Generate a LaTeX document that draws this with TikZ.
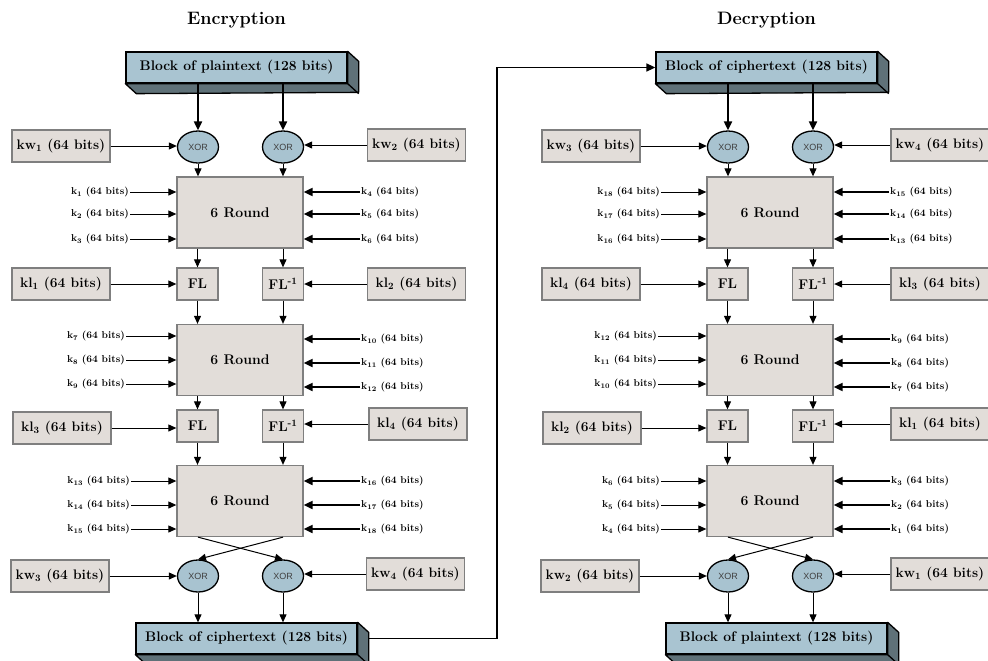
\documentclass[tikz,border=0pt]{standalone}
\usepackage{fontspec}
\newfontfamily\xorfont{Liberation Sans}
\usetikzlibrary{arrows.meta,positioning,shapes.geometric,calc}
\definecolor{BlockBlue}{HTML}{A9C4D1}
\definecolor{BlockSide}{HTML}{5F7178}
\definecolor{KeyGray}{HTML}{E2DDD9}
\definecolor{EdgeGray}{HTML}{7F7F7F}
\definecolor{XorBlue}{HTML}{A8C3D0}

\begin{document}
\begin{tikzpicture}[
    x=1pt, y=-1pt,
    title/.style={font=\fontsize{18}{20}\selectfont\bfseries},
    datablock/.style={rectangle, draw=black, line width=1.3pt, fill=BlockBlue, minimum width=221pt, minimum height=31pt, inner sep=0pt, font=\fontsize{13.9}{16}\selectfont\bfseries},
    side/.style={fill=BlockSide, draw=black, line width=1.3pt, line join=round},
    keybox/.style={rectangle, draw=EdgeGray, line width=1.3pt, fill=KeyGray, minimum width=98pt, minimum height=32pt, inner sep=0pt, font=\fontsize{13.8}{15}\selectfont\bfseries},
    roundbox/.style={rectangle, draw=EdgeGray, line width=1.3pt, fill=KeyGray, minimum width=126pt, minimum height=71pt, inner sep=0pt, font=\fontsize{14}{16}\selectfont\bfseries},
    flbox/.style={rectangle, draw=EdgeGray, line width=1.3pt, fill=KeyGray, minimum width=41pt, minimum height=32pt, inner sep=0pt, font=\fontsize{14}{16}\selectfont\bfseries},
    xor/.style={ellipse, draw=black, line width=1.3pt, fill=XorBlue, minimum width=41pt, minimum height=32pt, inner sep=0pt, font=\xorfont\fontsize{9}{10}\selectfont, text=black!75},
    subkey/.style={inner sep=1pt, font=\fontsize{10}{11}\selectfont\bfseries},
    arrow/.style={-{Triangle[length=8pt, width=7pt]}, line width=1pt},
    feed/.style={-{Triangle[length=9pt, width=8pt]}, line width=2pt},
    link/.style={-{Triangle[length=9pt, width=8pt]}, line width=1.5pt},
]
    \useasboundingbox (0,0) rectangle (988,661);

    % Encryption
    \node[title] (enctitle) at (236.5,20) {Encryption};
    \node[datablock] (ptop) at (236.5,67.5) {Block of plaintext (128 bits)};
    \node[xor] (ex1) at (198,147) {XOR};
    \node[xor] (ex2) at (283,147) {XOR};
    \node[keybox] (ekw1) at (61,146) {kw\textsubscript{1} (64 bits)};
    \node[keybox] (ekw2) at (416.5,145) {kw\textsubscript{2} (64 bits)};
    \node[roundbox] (er1) at (240,212.5) {6 Round};
    \node[subkey, anchor=east] (ek1) at (130,192) {k\textsubscript{1} (64 bits)};
    \node[subkey, anchor=east] (ek2) at (130,214) {k\textsubscript{2} (64 bits)};
    \node[subkey, anchor=east] (ek3) at (130,239) {k\textsubscript{3} (64 bits)};
    \node[subkey, anchor=west] (ek4) at (360,192) {k\textsubscript{4} (64 bits)};
    \node[subkey, anchor=west] (ek5) at (360,214) {k\textsubscript{5} (64 bits)};
    \node[subkey, anchor=west] (ek6) at (360,239) {k\textsubscript{6} (64 bits)};
    \node[flbox] (efl1) at (197.5,284) {FL};
    \node[flbox] (efi1) at (283,284) {FL\textsuperscript{-1}};
    \node[keybox] (ekl1) at (61,284) {kl\textsubscript{1} (64 bits)};
    \node[keybox] (ekl2) at (416.5,284) {kl\textsubscript{2} (64 bits)};
    \node[roundbox] (er2) at (240,360) {6 Round};
    \node[subkey, anchor=east] (ek7) at (126,336) {k\textsubscript{7} (64 bits)};
    \node[subkey, anchor=east] (ek8) at (126,360) {k\textsubscript{8} (64 bits)};
    \node[subkey, anchor=east] (ek9) at (126,384) {k\textsubscript{9} (64 bits)};
    \node[subkey, anchor=west] (ek10) at (360,339) {k\textsubscript{10} (64 bits)};
    \node[subkey, anchor=west] (ek11) at (360,363) {k\textsubscript{11} (64 bits)};
    \node[subkey, anchor=west] (ek12) at (360,387) {k\textsubscript{12} (64 bits)};
    \node[flbox] (efl2) at (197.5,426) {FL};
    \node[flbox] (efi2) at (283,426) {FL\textsuperscript{-1}};
    \node[keybox] (ekl3) at (62,428) {kl\textsubscript{3} (64 bits)};
    \node[keybox] (ekl4) at (418,424) {kl\textsubscript{4} (64 bits)};
    \node[roundbox] (er3) at (240,501) {6 Round};
    \node[subkey, anchor=east] (ek13) at (131,481) {k\textsubscript{13} (64 bits)};
    \node[subkey, anchor=east] (ek14) at (131,505) {k\textsubscript{14} (64 bits)};
    \node[subkey, anchor=east] (ek15) at (131,529) {k\textsubscript{15} (64 bits)};
    \node[subkey, anchor=west] (ek16) at (360,481) {k\textsubscript{16} (64 bits)};
    \node[subkey, anchor=west] (ek17) at (360,505) {k\textsubscript{17} (64 bits)};
    \node[subkey, anchor=west] (ek18) at (360,529) {k\textsubscript{18} (64 bits)};
    \node[xor] (ex3) at (198,576) {XOR};
    \node[xor] (ex4) at (283,576) {XOR};
    \node[keybox] (ekw3) at (60,576) {kw\textsubscript{3} (64 bits)};
    \node[keybox] (ekw4) at (415.5,574) {kw\textsubscript{4} (64 bits)};
    \node[datablock] (cbot) at (246.5,638.5) {Block of ciphertext (128 bits)};

    % Decryption
    \node[title] (dectitle) at (766.5,20) {Decryption};
    \node[datablock] (ctop) at (766.5,67.5) {Block of ciphertext (128 bits)};
    \node[xor] (dx1) at (728,147) {XOR};
    \node[xor] (dx2) at (813,147) {XOR};
    \node[keybox] (dkw3) at (591,146) {kw\textsubscript{3} (64 bits)};
    \node[keybox] (dkw4) at (940,145) {kw\textsubscript{4} (64 bits)};
    \node[roundbox] (dr1) at (770,212.5) {6 Round};
    \node[subkey, anchor=east] (dk18) at (661,192) {k\textsubscript{18} (64 bits)};
    \node[subkey, anchor=east] (dk17) at (661,214) {k\textsubscript{17} (64 bits)};
    \node[subkey, anchor=east] (dk16) at (661,239) {k\textsubscript{16} (64 bits)};
    \node[subkey, anchor=west] (dk15) at (889,192) {k\textsubscript{15} (64 bits)};
    \node[subkey, anchor=west] (dk14) at (889,214) {k\textsubscript{14} (64 bits)};
    \node[subkey, anchor=west] (dk13) at (889,239) {k\textsubscript{13} (64 bits)};
    \node[flbox] (dfl1) at (727.5,284) {FL};
    \node[flbox] (dfi1) at (813,284) {FL\textsuperscript{-1}};
    \node[keybox] (dkl4) at (591,284) {kl\textsubscript{4} (64 bits)};
    \node[keybox] (dkl3) at (940,284) {kl\textsubscript{3} (64 bits)};
    \node[roundbox] (dr2) at (770,360) {6 Round};
    \node[subkey, anchor=east] (dk12) at (658,336) {k\textsubscript{12} (64 bits)};
    \node[subkey, anchor=east] (dk11) at (658,360) {k\textsubscript{11} (64 bits)};
    \node[subkey, anchor=east] (dk10) at (658,384) {k\textsubscript{10} (64 bits)};
    \node[subkey, anchor=west] (dk9) at (890,339) {k\textsubscript{9} (64 bits)};
    \node[subkey, anchor=west] (dk8) at (890,363) {k\textsubscript{8} (64 bits)};
    \node[subkey, anchor=west] (dk7) at (890,387) {k\textsubscript{7} (64 bits)};
    \node[flbox] (dfl2) at (727.5,426) {FL};
    \node[flbox] (dfi2) at (813,426) {FL\textsuperscript{-1}};
    \node[keybox] (dkl2) at (592,428) {kl\textsubscript{2} (64 bits)};
    \node[keybox] (dkl1) at (940,424) {kl\textsubscript{1} (64 bits)};
    \node[roundbox] (dr3) at (770,501) {6 Round};
    \node[subkey, anchor=east] (dk6) at (661,481) {k\textsubscript{6} (64 bits)};
    \node[subkey, anchor=east] (dk5) at (661,505) {k\textsubscript{5} (64 bits)};
    \node[subkey, anchor=east] (dk4) at (661,529) {k\textsubscript{4} (64 bits)};
    \node[subkey, anchor=west] (dk3) at (890,481) {k\textsubscript{3} (64 bits)};
    \node[subkey, anchor=west] (dk2) at (890,505) {k\textsubscript{2} (64 bits)};
    \node[subkey, anchor=west] (dk1) at (890,529) {k\textsubscript{1} (64 bits)};
    \node[xor] (dx3) at (728,576) {XOR};
    \node[xor] (dx4) at (813,576) {XOR};
    \node[keybox] (dkw2) at (590,576) {kw\textsubscript{2} (64 bits)};
    \node[keybox] (dkw1) at (940,574) {kw\textsubscript{1} (64 bits)};
    \node[datablock] (pbot) at (776.5,638.5) {Block of plaintext (128 bits)};

    % 3D sides of the data blocks
    \filldraw[side] (ptop.north east) -- ++(11,10) -- ++(0,31) -- ($(ptop.south west)+(11,10)$) -- (ptop.south west) -- (ptop.south east) -- cycle;
    \draw[line width=1.3pt] (ptop.south east) -- ++(11,10);
    \filldraw[side] (cbot.north east) -- ++(11,10) -- ++(0,31) -- ($(cbot.south west)+(11,10)$) -- (cbot.south west) -- (cbot.south east) -- cycle;
    \draw[line width=1.3pt] (cbot.south east) -- ++(11,10);
    \filldraw[side] (ctop.north east) -- ++(11,10) -- ++(0,31) -- ($(ctop.south west)+(11,10)$) -- (ctop.south west) -- (ctop.south east) -- cycle;
    \draw[line width=1.3pt] (ctop.south east) -- ++(11,10);
    \filldraw[side] (pbot.north east) -- ++(11,10) -- ++(0,31) -- ($(pbot.south west)+(11,10)$) -- (pbot.south west) -- (pbot.south east) -- cycle;
    \draw[line width=1.3pt] (pbot.south east) -- ++(11,10);

    % Encryption arrows
    \draw[feed] (ptop.south -| ex1) -- (ex1);
    \draw[feed] (ptop.south -| ex2) -- (ex2);
    \draw[arrow] (ekw1) -- (ekw1 -| ex1.west);
    \draw[arrow] (ekw2) -- (ekw2 -| ex2.east);
    \draw[arrow] (ex1) -- (ex1 |- er1.north);
    \draw[arrow] (ex2) -- (ex2 |- er1.north);
    \draw[arrow] (ek1) -- (ek1 -| er1.west);
    \draw[arrow] (ek2) -- (ek2 -| er1.west);
    \draw[arrow] (ek3) -- (ek3 -| er1.west);
    \draw[feed] (ek4) -- (ek4 -| er1.east);
    \draw[feed] (ek5) -- (ek5 -| er1.east);
    \draw[feed] (ek6) -- (ek6 -| er1.east);
    \draw[arrow] (er1.south -| efl1) -- (efl1);
    \draw[arrow] (er1.south -| efi1) -- (efi1);
    \draw[arrow] (ekl1) -- (efl1);
    \draw[arrow] (ekl2) -- (efi1);
    \draw[arrow] (efl1) -- (efl1 |- er2.north);
    \draw[arrow] (efi1) -- (efi1 |- er2.north);
    \draw[arrow] (ek7) -- (ek7 -| er2.west);
    \draw[arrow] (ek8) -- (ek8 -| er2.west);
    \draw[arrow] (ek9) -- (ek9 -| er2.west);
    \draw[feed] (ek10) -- (ek10 -| er2.east);
    \draw[feed] (ek11) -- (ek11 -| er2.east);
    \draw[feed] (ek12) -- (ek12 -| er2.east);
    \draw[arrow] (er2.south -| efl2) -- (efl2);
    \draw[arrow] (er2.south -| efi2) -- (efi2);
    \draw[arrow] (ekl3) -- (ekl3 -| efl2.west);
    \draw[arrow] (ekl4) -- (ekl4 -| efi2.east);
    \draw[arrow] (efl2) -- (efl2 |- er3.north);
    \draw[arrow] (efi2) -- (efi2 |- er3.north);
    \draw[arrow] (ek13) -- (ek13 -| er3.west);
    \draw[arrow] (ek14) -- (ek14 -| er3.west);
    \draw[arrow] (ek15) -- (ek15 -| er3.west);
    \draw[feed] (ek16) -- (ek16 -| er3.east);
    \draw[feed] (ek17) -- (ek17 -| er3.east);
    \draw[feed] (ek18) -- (ek18 -| er3.east);
    \draw[arrow] (er3.south -| ex3) -- (ex4.north);
    \draw[arrow] (er3.south -| ex4) -- (ex3.north);
    \draw[arrow] (ekw3) -- (ekw3 -| ex3.west);
    \draw[arrow] (ekw4) -- (ekw4 -| ex4.east);
    \draw[arrow] (ex3) -- (ex3 |- cbot.north);
    \draw[arrow] (ex4) -- (ex4 |- cbot.north);

    % Decryption arrows
    \draw[feed] (ctop.south -| dx1) -- (dx1);
    \draw[feed] (ctop.south -| dx2) -- (dx2);
    \draw[arrow] (dkw3) -- (dkw3 -| dx1.west);
    \draw[arrow] (dkw4) -- (dkw4 -| dx2.east);
    \draw[arrow] (dx1) -- (dx1 |- dr1.north);
    \draw[arrow] (dx2) -- (dx2 |- dr1.north);
    \draw[arrow] (dk18) -- (dk18 -| dr1.west);
    \draw[arrow] (dk17) -- (dk17 -| dr1.west);
    \draw[arrow] (dk16) -- (dk16 -| dr1.west);
    \draw[feed] (dk15) -- (dk15 -| dr1.east);
    \draw[feed] (dk14) -- (dk14 -| dr1.east);
    \draw[feed] (dk13) -- (dk13 -| dr1.east);
    \draw[arrow] (dr1.south -| dfl1) -- (dfl1);
    \draw[arrow] (dr1.south -| dfi1) -- (dfi1);
    \draw[arrow] (dkl4) -- (dfl1);
    \draw[arrow] (dkl3) -- (dfi1);
    \draw[arrow] (dfl1) -- (dfl1 |- dr2.north);
    \draw[arrow] (dfi1) -- (dfi1 |- dr2.north);
    \draw[arrow] (dk12) -- (dk12 -| dr2.west);
    \draw[arrow] (dk11) -- (dk11 -| dr2.west);
    \draw[arrow] (dk10) -- (dk10 -| dr2.west);
    \draw[feed] (dk9) -- (dk9 -| dr2.east);
    \draw[feed] (dk8) -- (dk8 -| dr2.east);
    \draw[feed] (dk7) -- (dk7 -| dr2.east);
    \draw[arrow] (dr2.south -| dfl2) -- (dfl2);
    \draw[arrow] (dr2.south -| dfi2) -- (dfi2);
    \draw[arrow] (dkl2) -- (dkl2 -| dfl2.west);
    \draw[arrow] (dkl1) -- (dkl1 -| dfi2.east);
    \draw[arrow] (dfl2) -- (dfl2 |- dr3.north);
    \draw[arrow] (dfi2) -- (dfi2 |- dr3.north);
    \draw[arrow] (dk6) -- (dk6 -| dr3.west);
    \draw[arrow] (dk5) -- (dk5 -| dr3.west);
    \draw[arrow] (dk4) -- (dk4 -| dr3.west);
    \draw[feed] (dk3) -- (dk3 -| dr3.east);
    \draw[feed] (dk2) -- (dk2 -| dr3.east);
    \draw[feed] (dk1) -- (dk1 -| dr3.east);
    \draw[arrow] (dr3.south -| dx3) -- (dx4.north);
    \draw[arrow] (dr3.south -| dx4) -- (dx3.north);
    \draw[arrow] (dkw2) -- (dkw2 -| dx3.west);
    \draw[arrow] (dkw1) -- (dkw1 -| dx4.east);
    \draw[arrow] (dx3) -- (dx3 |- pbot.north);
    \draw[arrow] (dx4) -- (dx4 |- pbot.north);

    % ciphertext handed over to decryption
    \coordinate (bend) at (497,67.5);
    \draw[link] ($(cbot.east)+(11,0)$) -| (bend) -- (ctop.west);
\end{tikzpicture}
\end{document}
